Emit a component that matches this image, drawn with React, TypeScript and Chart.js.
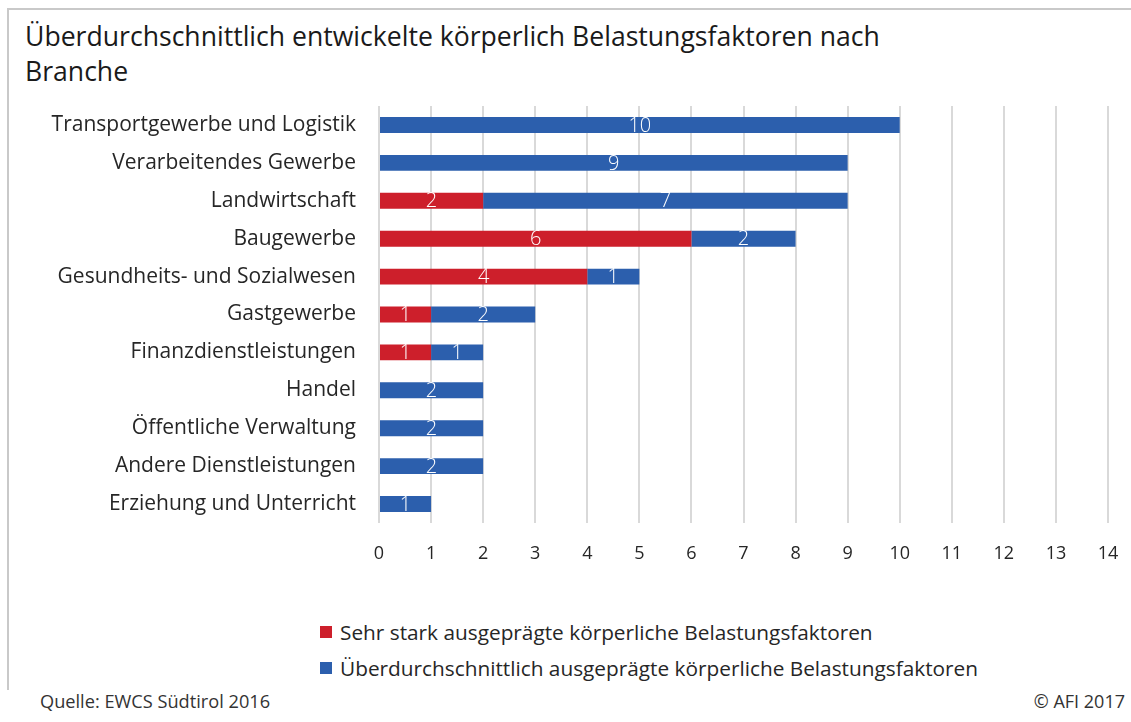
import React, { useEffect, useRef } from "react";
import { Chart, registerables } from "chart.js";

Chart.register(...registerables);

const categories = [
  "Transportgewerbe und Logistik",
  "Verarbeitendes Gewerbe",
  "Landwirtschaft",
  "Baugewerbe",
  "Gesundheits- und Sozialwesen",
  "Gastgewerbe",
  "Finanzdienstleistungen",
  "Handel",
  "Öffentliche Verwaltung",
  "Andere Dienstleistungen",
  "Erziehung und Unterricht",
];
const sehrStark = [0, 0, 2, 6, 4, 1, 1, 0, 0, 0, 0];
const ueberdurchschnittlich = [10, 9, 7, 2, 1, 2, 1, 2, 2, 2, 1];
const seriesNames = [
  "Sehr stark ausgeprägte körperliche Belastungsfaktoren",
  "Überdurchschnittlich ausgeprägte körperliche Belastungsfaktoren",
];
const seriesColors = ["#CD1F2B", "#2C5FAD"];
const xTicks = [0, 1, 2, 3, 4, 5, 6, 7, 8, 9, 10, 11, 12, 13, 14];

const FONT = "'Open Sans', 'Noto Sans', sans-serif";

const valueLabels = {
  id: "valueLabels",
  afterDatasetsDraw(chart: any) {
    const ctx = chart.ctx;
    ctx.save();
    ctx.fillStyle = "#ffffff";
    ctx.font = "300 20px " + FONT;
    ctx.textAlign = "center";
    ctx.textBaseline = "middle";
    chart.data.datasets.forEach((ds: any, di: number) => {
      const meta = chart.getDatasetMeta(di);
      meta.data.forEach((el: any, i: number) => {
        const v = ds.data[i];
        if (!v) return;
        const cx = (el.x + el.base) / 2;
        ctx.fillText(String(v), cx, el.y + 1);
      });
    });
    ctx.restore();
  },
};

export default function App() {
  const ref = useRef<HTMLCanvasElement>(null);
  useEffect(() => {
    if (!ref.current) return;
    const chart = new Chart(ref.current, {
      type: "bar",
      data: {
        labels: categories,
        datasets: [
          {
            label: seriesNames[0],
            data: sehrStark,
            backgroundColor: seriesColors[0],
            borderWidth: 0,
            categoryPercentage: 1,
            barPercentage: 0.42,
          },
          {
            label: seriesNames[1],
            data: ueberdurchschnittlich,
            backgroundColor: seriesColors[1],
            borderWidth: 0,
            categoryPercentage: 1,
            barPercentage: 0.42,
          },
        ],
      },
      options: {
        indexAxis: "y",
        responsive: false,
        animation: false,
        layout: { padding: { top: 16, right: 23, bottom: 0, left: 0 } },
        plugins: {
          legend: { display: false },
          title: { display: false },
          tooltip: { enabled: false },
        },
        scales: {
          x: {
            stacked: true,
            min: 0,
            max: 14,
            afterBuildTicks: (scale: any) => {
              scale.ticks = xTicks.map((v) => ({ value: v }));
            },
            afterFit: (scale: any) => {
              scale.height = 57;
              scale.paddingLeft = 0;
              scale.paddingRight = 0;
            },
            grid: { color: "#d9d9d9", lineWidth: 2, drawTicks: false },
            border: { display: false },
            ticks: {
              padding: 20,
              color: "#262626",
              font: { family: FONT, size: 18 },
            },
          },
          y: {
            stacked: true,
            afterFit: (scale: any) => {
              scale.width = 379;
              scale.paddingTop = 0;
              scale.paddingBottom = 0;
            },
            grid: { display: false, drawTicks: false },
            border: { display: false },
            ticks: {
              padding: 23,
              color: "#262626",
              font: { family: FONT, size: 21 },
            },
          },
        },
      },
      plugins: [valueLabels],
    });
    return () => chart.destroy();
  }, []);

  return (
    <div
      style={{
        position: "fixed",
        left: 0,
        top: 0,
        width: 1131,
        height: 722,
        background: "#fff",
        fontFamily: FONT,
        color: "#1a1a1a",
        overflow: "hidden",
      }}
    >
      <div
        style={{
          position: "absolute",
          left: 7,
          top: 8,
          right: -5,
          height: 680,
          borderLeft: "2px solid #c9c9c9",
          borderTop: "2px solid #c9c9c9",
        }}
      />
      <div
        style={{
          position: "absolute",
          left: 25,
          top: 19,
          fontSize: 26.6,
          lineHeight: "35px",
          color: "#1a1a1a",
          whiteSpace: "nowrap",
        }}
      >
        Überdurchschnittlich entwickelte körperlich Belastungsfaktoren nach
        <br />
        Branche
      </div>
      <canvas
        ref={ref}
        width={1131}
        height={490}
        style={{ position: "absolute", left: 0, top: 90 }}
      />
      {seriesNames.map((name, i) => (
        <div
          key={name}
          style={{
            position: "absolute",
            left: 320,
            top: 617 + i * 36,
            height: 30,
            display: "flex",
            alignItems: "center",
            fontSize: 20.8,
            color: "#262626",
            whiteSpace: "nowrap",
          }}
        >
          <span
            style={{
              display: "inline-block",
              width: 12,
              height: 12,
              background: seriesColors[i],
              marginRight: 8,
            }}
          />
          {name}
        </div>
      ))}
      <div
        style={{
          position: "absolute",
          left: 40,
          top: 689,
          fontSize: 18.2,
          color: "#333",
        }}
      >
        Quelle: EWCS Südtirol 2016
      </div>
      <div
        style={{
          position: "absolute",
          right: 6,
          top: 689,
          fontSize: 18,
          color: "#333",
        }}
      >
        © AFI 2017
      </div>
    </div>
  );
}
